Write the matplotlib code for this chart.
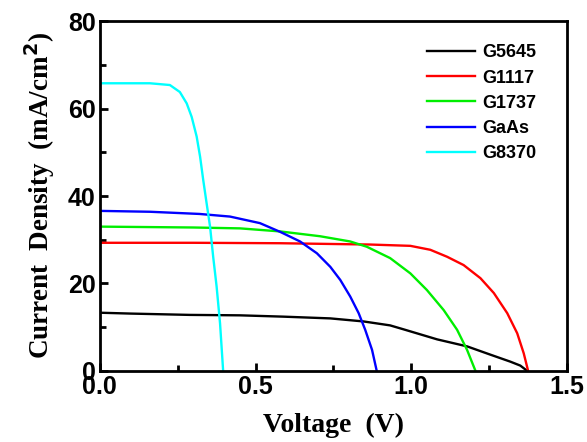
import numpy as np
import matplotlib
matplotlib.use("Agg")
import matplotlib.pyplot as plt
from matplotlib.ticker import MultipleLocator, FormatStrFormatter

# ── data (V, mA/cm^2) ────────────────────────────────────────────────────────
v_g5645 = [0.0, 0.10, 0.289, 0.45, 0.589, 0.740, 0.847, 0.932, 0.975, 1.083, 1.179, 1.254, 1.318, 1.350, 1.372]
j_g5645 = [13.3, 13.1, 12.8, 12.7, 12.4, 12.0, 11.3, 10.4, 9.5, 7.2, 5.6, 3.7, 2.1, 1.2, 0.0]

v_g1117 = [0.0, 0.30, 0.579, 0.868, 0.997, 1.061, 1.115, 1.168, 1.222, 1.265, 1.308, 1.340, 1.361, 1.375]
j_g1117 = [29.3, 29.3, 29.2, 28.9, 28.6, 27.7, 26.1, 24.2, 21.2, 17.8, 13.2, 8.6, 4.0, 0.0]

v_g1737 = [0.0, 0.30, 0.45, 0.579, 0.707, 0.804, 0.857, 0.932, 0.997, 1.050, 1.104, 1.147, 1.179, 1.206]
j_g1737 = [33.0, 32.8, 32.6, 31.9, 30.8, 29.6, 28.4, 25.8, 22.3, 18.5, 13.9, 9.4, 4.8, 0.0]

v_gaas = [0.0, 0.161, 0.320, 0.418, 0.514, 0.579, 0.643, 0.697, 0.740, 0.772, 0.804, 0.831, 0.852, 0.874, 0.889]
j_gaas = [36.6, 36.4, 35.9, 35.3, 33.8, 31.8, 29.6, 26.9, 23.8, 20.8, 17.0, 13.2, 9.4, 4.8, 0.0]

v_g8370 = [0.0, 0.161, 0.225, 0.257, 0.279, 0.295, 0.311, 0.322, 0.332, 0.343,
           0.354, 0.364, 0.375, 0.386, 0.396]
j_g8370 = [65.8, 65.8, 65.4, 63.8, 61.2, 58.1, 53.6, 49.0, 43.7, 38.3,
           33.0, 26.1, 19.3, 10.9, 0.0]

labels = ["G5645", "G1117", "G1737", "GaAs", "G8370"]
colors = ["black", "red", "#00ee00", "blue", "cyan"]

# ── plot ──────────────────────────────────────────────────────────────────────
fig = plt.figure(figsize=(5.87, 4.42), dpi=100)
ax = fig.add_axes([0.170, 0.161, 0.796, 0.791])

series = [(v_g5645, j_g5645), (v_g1117, j_g1117), (v_g1737, j_g1737),
          (v_gaas, j_gaas), (v_g8370, j_g8370)]
for (v, j), lab, c in zip(series, labels, colors):
    ax.plot(v, j, color=c, lw=1.7, label=lab, solid_joinstyle="round")

ax.set_xlim(0, 1.5)
ax.set_ylim(0, 80)
ax.xaxis.set_major_locator(MultipleLocator(0.5))
ax.xaxis.set_minor_locator(MultipleLocator(0.25))
ax.yaxis.set_major_locator(MultipleLocator(20))
ax.yaxis.set_minor_locator(MultipleLocator(10))
ax.xaxis.set_major_formatter(FormatStrFormatter("%.1f"))

for s in ax.spines.values():
    s.set_linewidth(2)
ax.tick_params(which="both", direction="in", width=2, top=False, right=False)
ax.tick_params(which="major", length=6, pad=3)
ax.tick_params(which="minor", length=4)
for t in ax.get_xticklabels() + ax.get_yticklabels():
    t.set_fontfamily("Liberation Sans")
    t.set_fontweight("bold")
    t.set_fontsize(18)

ax.set_xlabel("Voltage  (V)", family="Liberation Serif", weight="bold", fontsize=20, labelpad=10)
ax.set_ylabel("Current  Density  (mA/cm$^\\mathbf{2}$)", family="Liberation Serif",
              weight="bold", fontsize=19.5, labelpad=8)

ax.legend(loc="upper right", frameon=False, handlelength=2.7, handletextpad=0.4,
          labelspacing=0.45, bbox_to_anchor=(0.97, 0.98),
          prop={"family": "Liberation Sans", "weight": "bold", "size": 13})

plt.savefig("out.png", dpi=100)
